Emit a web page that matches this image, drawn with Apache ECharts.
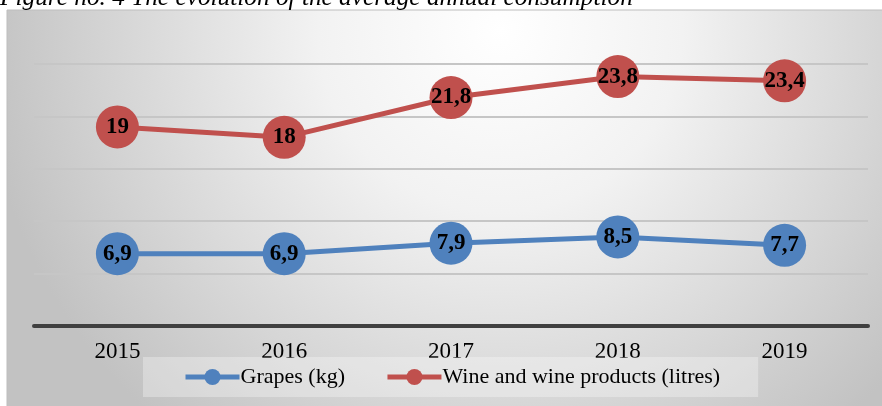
<!DOCTYPE html>
<html>
<head>
<meta charset="utf-8">
<script src="https://cdn.jsdelivr.net/npm/echarts@6/dist/echarts.min.js"></script>
<style>
	html, body { margin: 0; padding: 0; background: #fff; }
	#chart { width: 882px; height: 406px; }
</style>
</head>
<body>
<div id="chart"></div>
<script>
let years = ['2015', '2016', '2017', '2018', '2019'];
let grapes = [6.9, 6.9, 7.9, 8.5, 7.7]; // kg
let wine = [19, 18, 21.8, 23.8, 23.4]; // litres
let series_names = ['Grapes (kg)', 'Wine and wine products (litres)'];
let title_text = 'Figure no. 4 The evolution of the average annual consumption';

let serif = '"Liberation Serif", "Times New Roman", serif';
let chart = echarts.init(document.getElementById('chart'));

// 数值标签用逗号
function comma(p) {
	return String(p.value).replace('.', ',');
}

function line(name, data, color) {
	return {
		name: name,
		type: 'line',
		data: data,
		symbol: 'circle',
		symbolSize: 43,
		itemStyle: { color: color },
		lineStyle: { color: color, width: 5 },
		label: {
			show: true,
			position: 'inside',
			formatter: comma,
			color: '#000',
			fontFamily: serif,
			fontWeight: 'bold',
			fontSize: 23,
		},
		emphasis: { disabled: true },
		animation: false,
	};
}

let option = {
	animation: false,
	graphic: [
		{
			type: 'rect',
			z: -10,
			silent: true,
			shape: { x: 7, y: 10, width: 880, height: 400 },
			style: {
				fill: {
					type: 'radial',
					x: 500,
					y: 30,
					r: 520,
					global: true,
					colorStops: [
						{ offset: 0, color: '#ffffff' },
						{ offset: 0.35, color: '#f2f2f2' },
						{ offset: 1, color: '#c2c2c2' },
					],
				},
				stroke: '#bdbdbd',
				lineWidth: 1,
			},
		},
		{
			type: 'text',
			z: 10,
			silent: true,
			style: {
				text: title_text,
				x: 0,
				y: -1.5,
				verticalAlign: 'middle',
				font: 'italic 25.3px ' + serif,
				fill: '#000',
			},
		},
	],
	grid: { left: 34, right: 14, top: 64, bottom: 80 },
	legend: {
		data: series_names,
		left: 143,
		top: 357,
		padding: [9, 38, 9, 40],
		backgroundColor: 'rgba(255,255,255,0.3)',
		itemWidth: 54,
		itemHeight: 20,
		itemGap: 40,
		lineStyle: { width: 5 },
		textStyle: { color: '#000', fontFamily: serif, fontSize: 22, padding: [0, 0, 0, -4] },
	},
	xAxis: {
		type: 'category',
		data: years,
		boundaryGap: true,
		axisLine: { lineStyle: { color: '#404040', width: 4 } },
		axisTick: { show: false },
		axisLabel: { color: '#000', fontFamily: serif, fontSize: 23, margin: 14 },
		z: 3,
	},
	yAxis: {
		type: 'value',
		min: 0,
		max: 25,
		interval: 5,
		axisLine: { show: false },
		axisTick: { show: false },
		axisLabel: { show: false },
		splitLine: { lineStyle: { color: '#c6c6c6', width: 2 } },
	},
	series: [line(series_names[0], grapes, '#4f81bd'), line(series_names[1], wine, '#c0504d')],
};
chart.setOption(option);
</script>
</body>
</html>
